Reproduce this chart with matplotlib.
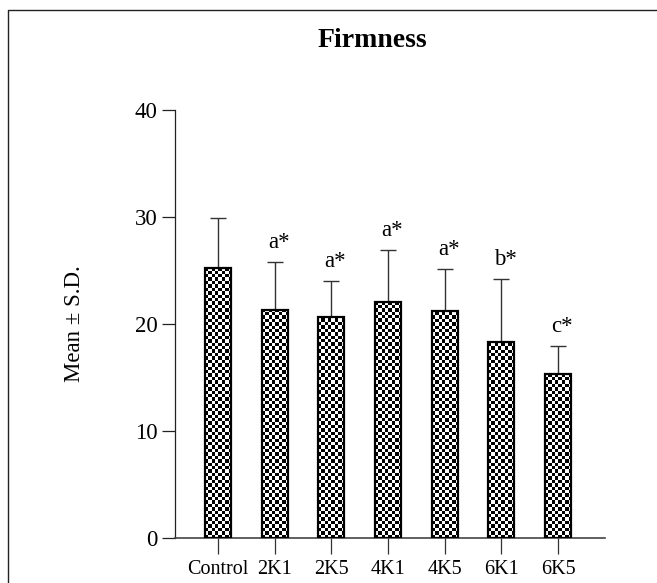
import numpy as np
import matplotlib
matplotlib.use('Agg')
import matplotlib.pyplot as plt
from matplotlib.lines import Line2D

categories = ['Control', '2K1', '2K5', '4K1', '4K5', '6K1', '6K5']
means = [25.2, 21.3, 20.7, 22.1, 21.2, 18.3, 15.3]
sds = [4.7, 4.5, 3.3, 4.8, 3.9, 5.9, 2.6]
letters = ['', 'a*', 'a*', 'a*', 'a*', 'b*', 'c*']
yticks = [0, 10, 20, 30, 40]

plt.rcParams['font.family'] = ['Liberation Serif', 'DejaVu Serif']

W, H = 657, 583
fig = plt.figure(figsize=(W / 100, H / 100), dpi=100)
ax = fig.add_axes([175 / W, 1 - 538 / H, 430 / W, 428 / H])

x = np.arange(len(categories))
w = 0.46

ax.errorbar(x, means, yerr=sds, fmt='none', ecolor='#333333', elinewidth=1.0,
            capsize=5.5, capthick=1.0, zorder=1)
bars = ax.bar(x, means, width=w, color='white', edgecolor='none', zorder=2)
cy = 0.32
for b in bars:
    x0, y0 = b.get_x(), b.get_y()
    bw, bh = b.get_width(), b.get_height()
    nx = 8
    ny = int(np.ceil(bh / cy))
    ii, jj = np.indices((ny, nx))
    tex = (ii + jj) % 2
    im = ax.imshow(tex, cmap='gray', interpolation='nearest',
                   extent=(x0, x0 + bw, y0, y0 + ny * cy), origin='lower',
                   aspect='auto', zorder=2.5, vmin=0, vmax=1)
    im.set_clip_path(b)
ax.bar(x, means, width=w, fill=False, edgecolor='black', linewidth=1.6, zorder=3)

for xi, m, s, lab in zip(x, means, sds, letters):
    if lab:
        ax.annotate(lab, (xi, m + s), xytext=(3, 6.5), textcoords='offset points',
                    ha='center', va='bottom', fontsize=16.5)

ax.set_xlim(-0.76, 6.83)
ax.set_ylim(0, 40)
ax.set_yticks(yticks)
ax.set_xticks(x)
ax.set_xticklabels(categories)
for sp in ['top', 'right']:
    ax.spines[sp].set_visible(False)
ax.spines['left'].set_bounds(0, 40)
ax.spines['left'].set_color('#222222')
ax.spines['bottom'].set_color('#444444')
ax.spines['left'].set_linewidth(0.9)
ax.spines['bottom'].set_linewidth(1.2)
ax.tick_params(axis='y', direction='out', length=9.4, width=0.9, pad=3,
               labelsize=16.5, color='#222222')
ax.tick_params(axis='x', direction='out', length=11.5, width=0.9, pad=4.3,
               labelsize=14.5, color='#333333')

fig.text(74 / W, 1 - 324 / H, 'Mean ± S.D.', rotation=90, ha='center',
         va='center', fontsize=16.5)
fig.text(372 / W, 1 - 47 / H, 'Firmness', ha='center', va='baseline',
         fontsize=20, fontweight='bold')

fig.add_artist(Line2D([8 / W, 8 / W, 1.0], [0.0, 1 - 10 / H, 1 - 10 / H],
                      transform=fig.transFigure, color='#222222', linewidth=1.0))

fig.savefig('out.png', dpi=100)
